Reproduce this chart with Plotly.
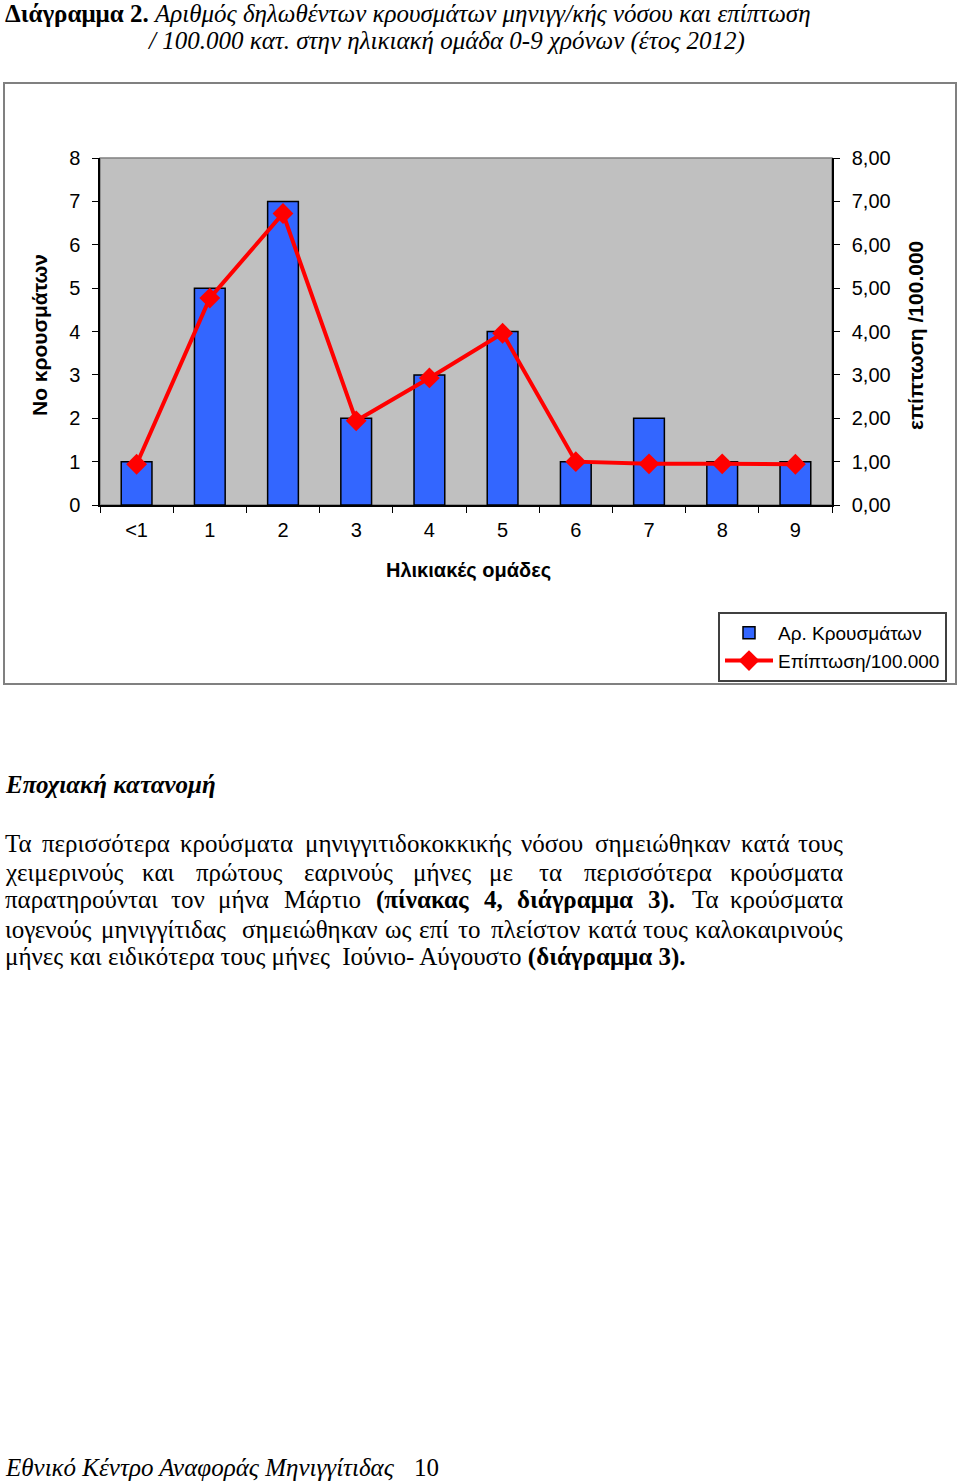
import plotly.graph_objects as go

W, H = 960, 1482

# chart data
age_groups = ["<1", "1", "2", "3", "4", "5", "6", "7", "8", "9"]
cases = [1, 5, 7, 2, 3, 4, 1, 2, 1, 1]
incidence = [0.94, 4.77, 6.72, 1.94, 2.93, 3.96, 1.00, 0.95, 0.95, 0.94]
left_ticks = [0, 1, 2, 3, 4, 5, 6, 7, 8]
right_ticktext = ["0,00", "1,00", "2,00", "3,00", "4,00", "5,00", "6,00", "7,00", "8,00"]

# page text
title_bold = "Διάγραμμα 2."
title_1 = "Αριθμός δηλωθέντων κρουσμάτων μηνιγγ/κής νόσου και επίπτωση"
title_2 = "/ 100.000 κατ. στην ηλικιακή ομάδα 0-9 χρόνων (έτος 2012)"
heading = "Εποχιακή κατανομή"
# justified lines: (word, left px, right px) on the page
para_lines = [
    [("Τα", 3, 33), ("περισσότερα", 41, 170), ("κρούσματα", 180, 292),
     ("μηνιγγιτιδοκοκκικής", 304, 512), ("νόσου", 521, 583), ("σημειώθηκαν", 595, 730),
     ("κατά", 741, 789), ("τους", 798, 845)],
    [("χειμερινούς", 3, 120), ("και", 141, 175), ("πρώτους", 195, 283), ("εαρινούς", 304, 393),
     ("μήνες", 414, 470), ("με", 489, 512), ("τα", 538, 563), ("περισσότερα", 584, 712),
     ("κρούσματα", 733, 845)],
    [("παρατηρούνται", 3, 155), ("τον", 171, 205), ("μήνα", 219, 268), ("Μάρτιο", 284, 360),
     ("<b>(πίνακας</b>", 376, 469), ("<b>4,</b>", 484, 503), ("<b>διάγραμμα</b>", 517, 632),
     ("<b>3).</b>", 647, 675), ("Τα", 691, 720), ("κρούσματα", 733, 845)],
    [("ιογενούς", 3, 90), ("μηνιγγίτιδας", 100, 227), ("σημειώθηκαν", 243, 375),
     ("ως", 385, 410), ("επί", 420, 448), ("το", 458, 480), ("πλείστον", 490, 580),
     ("κατά", 590, 634), ("τους", 644, 687), ("καλοκαιρινούς", 697, 845)],
]
para_last = "μήνες και ειδικότερα τους μήνες&nbsp; Ιούνιο- Αύγουστο <b>(διάγραμμα 3).</b>"
para_y = [843, 872, 900, 929, 957]
footer = "Εθνικό Κέντρο Αναφοράς Μηνιγγίτιδας"
page_no = "10"


def px(x):
    return x / W


def py(y):
    return 1 - y / H


SERIF = "Liberation Serif, Times New Roman, serif"
SANS = "Liberation Sans, Arial, sans-serif"

fig = go.Figure()

fig.add_trace(go.Bar(
    x=age_groups, y=cases, name="Αρ. Κρουσμάτων",
    marker=dict(color="#3366FF", line=dict(color="black", width=1.5)),
    width=0.42,
))
fig.add_trace(go.Scatter(
    x=age_groups, y=incidence, name="Επίπτωση/100.000", yaxis="y2",
    mode="lines+markers",
    line=dict(color="#FF0000", width=4),
    marker=dict(symbol="diamond", size=16, color="#FF0000"),
))

annotations = []


def txt(x, y, text, size=25, font=SERIF, anchor="left", color="black", angle=0):
    annotations.append(dict(
        x=px(x), y=py(y), xref="paper", yref="paper", text=text, showarrow=False,
        xanchor=anchor, yanchor="middle", textangle=angle,
        font=dict(family=font, size=size, color=color),
    ))


# page title
txt(3, 13, "<b>" + title_bold + "</b> <i>" + title_1 + "</i>")
txt(145, 41, "<i>" + title_2 + "</i>")

# chart texts
txt(468, 570, "<b>Ηλικιακές ομάδες</b>", size=20, font=SANS, anchor="center")
txt(40, 335, "<b>Νο κρουσμάτων</b>", size=21, font=SANS, anchor="center", angle=-90)
txt(915, 336, "<b>επίπτωση /100.000</b>", size=21, font=SANS, anchor="center", angle=-90)

# body text
txt(3, 785, "<b><i>" + heading + "</i></b>")
for line, y in zip(para_lines, para_y):
    last = len(line) - 1
    for i, (word, x0, x1) in enumerate(line):
        if i == 0:
            txt(x0, y, word)
        elif i == last:
            txt(x1, y, word, anchor="right")
        else:
            txt((x0 + x1) / 2, y, word, anchor="center")
txt(3, para_y[-1], para_last)

txt(3, 1467, "<i>" + footer + "</i>")
txt(412, 1467, page_no)

shapes = [
    # chart frame
    dict(type="rect", xref="paper", yref="paper", x0=px(4), x1=px(956), y0=py(684), y1=py(83),
         line=dict(color="#808080", width=2), fillcolor="rgba(0,0,0,0)", layer="below"),
    # plot area
    dict(type="rect", xref="paper", yref="paper", x0=px(100), x1=px(832), y0=py(505), y1=py(158),
         line=dict(color="#808080", width=1.5), fillcolor="#C0C0C0", layer="below"),
]

fig.update_layout(
    width=W, height=H,
    margin=dict(l=0, r=0, t=0, b=0, pad=0, autoexpand=False),
    paper_bgcolor="white", plot_bgcolor="rgba(0,0,0,0)",
    showlegend=True,
    legend=dict(
        x=px(718), y=py(612), xanchor="left", yanchor="top",
        bordercolor="#404040", borderwidth=2, bgcolor="white",
        font=dict(family=SANS, size=19, color="black"),
        itemwidth=48, tracegroupgap=2,
    ),
    xaxis=dict(
        domain=[px(100), px(832)], type="category", range=[-0.5, 9.5],
        showline=True, linecolor="black", linewidth=1.5,
        ticks="outside", ticklen=6, tickcolor="black", tickson="boundaries",
        ticklabelstandoff=6,
        tickfont=dict(family=SANS, size=20, color="black"),
        showgrid=False, zeroline=False, fixedrange=True,
    ),
    yaxis=dict(
        domain=[py(505), py(158)], range=[0, 8],
        tickvals=left_ticks,
        showline=True, linecolor="black", linewidth=1.5,
        ticks="outside", ticklen=6, tickcolor="black", ticklabelstandoff=8,
        tickfont=dict(family=SANS, size=20, color="black"),
        showgrid=False, zeroline=False,
    ),
    yaxis2=dict(
        overlaying="y", side="right", range=[0, 8],
        tickvals=left_ticks, ticktext=right_ticktext,
        showline=True, linecolor="black", linewidth=1.5,
        ticks="outside", ticklen=6, tickcolor="black", ticklabelstandoff=8,
        tickfont=dict(family=SANS, size=20, color="black"),
        showgrid=False, zeroline=False,
    ),
    annotations=annotations,
    shapes=shapes,
    bargap=0.5,
)

fig.write_html(
    "out.html",
    config={"displayModeBar": False},
    post_script="document.body.style.margin='0';document.body.style.overflow='hidden';",
)
